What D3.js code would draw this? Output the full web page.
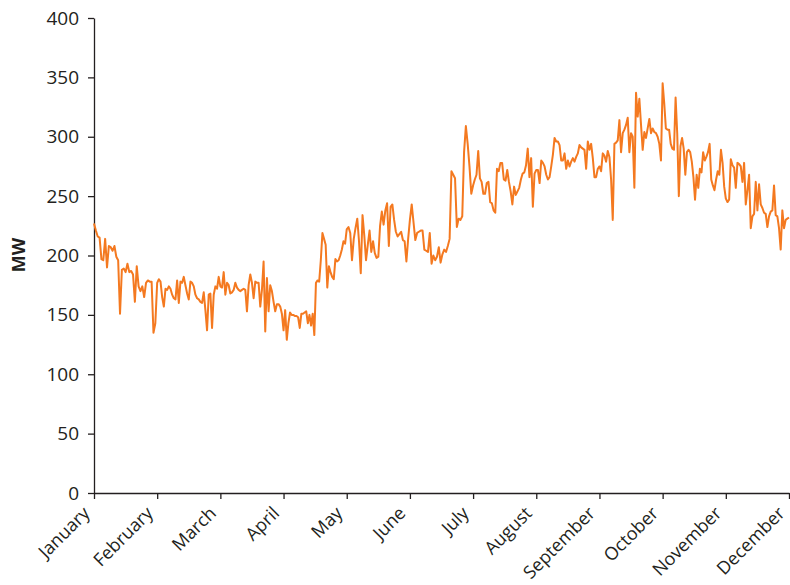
<!DOCTYPE html>
<html><head><meta charset="utf-8">
<script src="https://cdn.jsdelivr.net/npm/d3@7"></script>
<style>
body{margin:0;background:#fff;}
svg text{font-family:"Open Sans","Noto Sans",sans-serif;}
</style></head>
<body><svg id="c" width="790" height="585"></svg>
<script>
const months = ["January","February","March","April","May","June","July","August","September","October","November","December"];
const yTicks = [0,50,100,150,200,250,300,350,400];
const jan = [227,221,216,215,197,196,214,190,208,207,204,208,199,196,151,188,189,186,193,186,187,184,161,191,174,170,174,165,177,179,178,178,135,143];
const feb = [177,180,178,165,157,172,171,174,172,167,164,163,179,160,178,177,182,175,168,163,178,177,174,167,164,163,161,160,169,154,137,167,168,139,167,174,172,182];
const mar = [174,173,186,167,177,175,168,169,171,177,173,171,170,171,172,171,153,175,184,177,164,178,177,177,157,171,195,136,181,153,175,170,161,153,159,159,157,151];
const apr = [137,154,129,143,152,150,150,149,149,148,139,151,151,152,153,143,150,141,151,133,177,179,178,196,219,214,209,173,191,186,182,180,197,195,196,200,205,212,210];
const may = [222,224,219,196,214,223,231,212,185,234,217,196,209,221,203,212,202,198,199,225,237,226,238,244,208,241,243,230,220,216,218,220,213,212,195,214];
const jun = [230,243,228,213,219,220,221,221,205,204,203,219,193,200,196,199,207,194,201,205,203,208,214,271,268,265,224,231,230,233,287,309,294,275,252];
const jul = [259,264,268,288,265,262,252,252,261,262,245,244,238,236,273,271,278,278,264,263,272,262,254,243,258,251,254,257,264,269,270,276,290,266,282,241,269];
const aug = [272,272,261,280,278,275,268,264,266,275,285,299,296,296,293,280,280,286,273,280,275,279,282,279,283,286,293,291,290,289,273,296,289,294,282,266,266,273];
const sep = [275,271,286,284,279,288,283,264,230,294,295,297,314,287,303,306,310,316,287,303,300,257,337,317,332,310,289,304,299,307,315,303,307,304,303,300,294,280];
const oct = [345,328,307,306,306,294,290,289,333,303,250,292,299,290,268,287,289,287,279,266,247,268,257,273,270,287,280,283,287,294,264,259,255,264,271,268,289,278,258];
const nov = [248,245,247,281,276,274,257,278,277,275,262,278,243,255,268,223,233,235,262,238,260,243,240,236,235,224,233,237,238,259,234,233,223,205,238,223,230,231];
const dec = [232];

const byMonth = [jan,feb,mar,apr,may,jun,jul,aug,sep,oct,nov,dec];
const data = [];
byMonth.forEach((arr,m)=>arr.forEach((v,i)=>data.push({t:m+i/arr.length,v:v})));

const svg = d3.select("#c");
const x = d3.scaleLinear().domain([0,11]).range([94,789]);
const y = d3.scaleLinear().domain([0,400]).range([493,18]);

const gx = svg.append("g").attr("transform","translate(0,493)")
  .call(d3.axisBottom(x).tickValues(d3.range(12)).tickFormat(i=>months[i]).tickSize(6).tickSizeOuter(0));
gx.selectAll("text").attr("font-size",18).attr("fill","#231f20")
  .attr("text-anchor","end").attr("dx",0).attr("dy",0)
  .attr("transform","translate(-10,15) rotate(-45)");
const gy = svg.append("g").attr("transform","translate(94,0)")
  .call(d3.axisLeft(y).tickValues(yTicks).tickSize(6).tickSizeOuter(0).tickPadding(9));
gy.selectAll("text").attr("font-size",19).attr("fill","#231f20");
svg.selectAll(".domain").attr("stroke","#231f20").attr("stroke-width",1.3);
svg.selectAll(".tick line").attr("stroke","#231f20").attr("stroke-width",1.3);

svg.append("text").attr("transform","translate(25,255) rotate(-90)")
  .attr("text-anchor","middle").attr("font-size",18).attr("font-weight","bold")
  .attr("fill","#231f20").text("MW");

svg.append("path").datum(data)
  .attr("fill","none").attr("stroke","#f47920").attr("stroke-width",2)
  .attr("stroke-linejoin","round")
  .attr("d",d3.line().x(d=>x(d.t)).y(d=>y(d.v)));
</script></body></html>
